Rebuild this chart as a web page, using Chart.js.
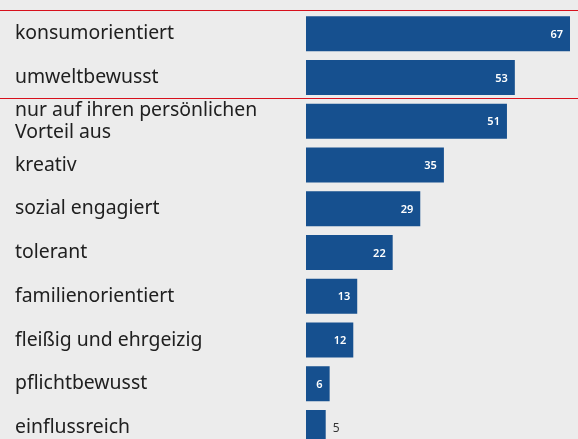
<!DOCTYPE html>
<html>
<head>
<meta charset="utf-8">
<script src="https://cdn.jsdelivr.net/npm/chart.js@4"></script>
<style>
  html, body { margin: 0; padding: 0; background: #ececec; overflow: hidden; }
  #wrap { width: 578px; height: 439px; overflow: hidden; }
  #chart { display: block; }
</style>
</head>
<body>
<div id="wrap"><canvas id="chart" width="578" height="460"></canvas></div>
<script>
// Eigenschaften und Anteile (in %)
var categories = [
  "konsumorientiert",
  "umweltbewusst",
  ["nur auf ihren persönlichen", "Vorteil aus"],
  "kreativ",
  "sozial engagiert",
  "tolerant",
  "familienorientiert",
  "fleißig und ehrgeizig",
  "pflichtbewusst",
  "einflussreich"
];
var values = [67, 53, 51, 35, 29, 22, 13, 12, 6, 5];
// die ersten beiden Zeilen sind rot eingerahmt
var highlighted = [0, 1];

var barColor = "#16508f";
var redLine = "rgb(215, 16, 28)";

// Werte an die Balken schreiben
var valueLabels = {
  id: "valueLabels",
  afterDatasetsDraw: function(chart) {
    var ctx = chart.ctx;
    var meta = chart.getDatasetMeta(0);
    ctx.save();
    ctx.textBaseline = "middle";
    meta.data.forEach(function(bar, i) {
      var txt = String(values[i]);
      ctx.font = "600 11px 'Noto Sans'";
      var w = ctx.measureText(txt).width;
      var barW = bar.x - bar.base;
      if (barW > w + 14) {
        ctx.fillStyle = "#ffffff";
        ctx.textAlign = "right";
        ctx.fillText(txt, bar.x - 7, bar.y + 1);
      } else {
        ctx.fillStyle = "#333333";
        ctx.font = "12px 'Noto Sans'";
        ctx.textAlign = "left";
        ctx.fillText(txt, bar.x + 7, bar.y + 1);
      }
    });
    ctx.restore();
  }
};

// rote Linien ober- und unterhalb der markierten Zeilen
var frameLines = {
  id: "frameLines",
  afterDraw: function(chart) {
    var ctx = chart.ctx;
    var y = chart.scales.y;
    var step = (y.bottom - y.top) / categories.length;
    var first = highlighted[0];
    var last = highlighted[highlighted.length - 1];
    var ys = [y.top + first * step - 2, y.top + (last + 1) * step - 1];
    ctx.save();
    ctx.fillStyle = redLine;
    ys.forEach(function(yy) {
      ctx.fillRect(0, Math.round(yy), chart.width, 1);
    });
    ctx.restore();
  }
};

var chart = new Chart(document.getElementById("chart"), {
  type: "bar",
  data: {
    labels: categories,
    datasets: [{
      data: values,
      backgroundColor: barColor,
      borderWidth: 0,
      barPercentage: 0.8,
      categoryPercentage: 1.0
    }]
  },
  options: {
    indexAxis: "y",
    responsive: false,
    animation: false,
    layout: { padding: { left: 15, right: 8, top: 12, bottom: 0 } },
    plugins: {
      legend: { display: false },
      tooltip: { enabled: false }
    },
    scales: {
      x: {
        display: false,
        min: 0,
        max: 67
      },
      y: {
        grid: { display: false },
        border: { display: false },
        ticks: {
          autoSkip: false,
          crossAlign: "far",
          padding: 0,
          color: "#202020",
          font: { family: "'Noto Sans'", size: 19.4, lineHeight: 1.1 }
        },
        afterFit: function(scale) {
          scale.width = 291;
        }
      }
    }
  },
  plugins: [valueLabels, frameLines]
});
</script>
</body>
</html>
